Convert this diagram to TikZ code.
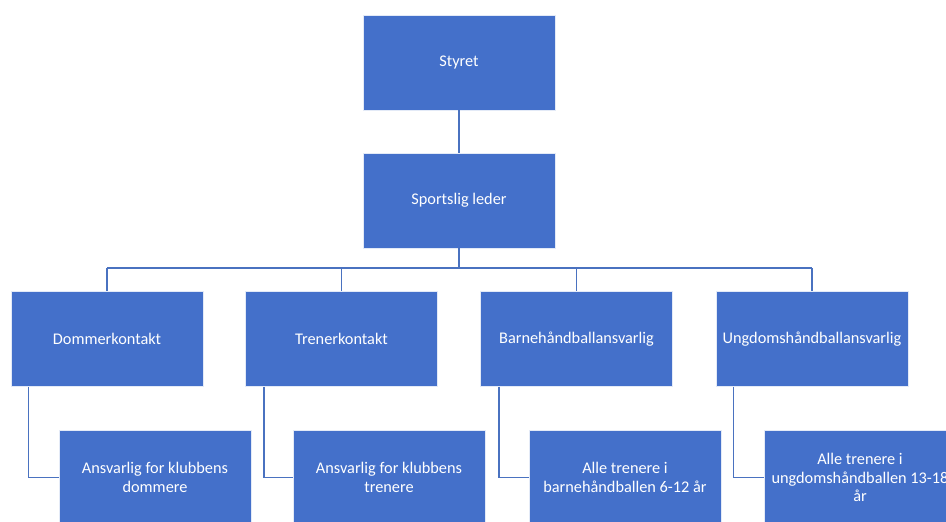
\documentclass[tikz,border=0pt]{standalone}
\usepackage{fontspec}
\setmainfont{Carlito}
\usetikzlibrary{calc}
\definecolor{boxblue}{HTML}{4470CA}
\definecolor{lineblue}{HTML}{4A72C0}
\begin{document}
\begin{tikzpicture}[x=1pt,y=-1pt,
  orgbox/.style={draw=white!85!boxblue,line width=0.8pt,fill=boxblue,text=white,
    minimum width=192pt,minimum height=95pt,inner sep=2pt,align=center,
    font=\fontsize{16.3}{18.8}\selectfont},
  conn/.style={draw=lineblue,line width=1.6pt}]
\useasboundingbox (0,0) rectangle (946,522);
\clip (0,0) rectangle (946,522);
\fill[white] (0,0) rectangle (946,522);
\node[orgbox] (styret) at (459,62.5) {Styret};
\node[orgbox] (leder) at (459,200.5) {Sportslig leder};
\node[orgbox] (d1) at (107,339) {Dommerkontakt};
\node[orgbox] (d2) at (341.5,339) {Trenerkontakt};
\node[orgbox] (d3) at (576.5,339) {Barnehåndballansvarlig};
\node[orgbox] (d4) at (812,339) {Ungdomshåndballansvarlig};
\node[orgbox] (c1) at (155,477.5) {Ansvarlig for klubbens\\dommere};
\node[orgbox] (c2) at (389,477.5) {Ansvarlig for klubbens\\trenere};
\node[orgbox] (c3) at (625,477.5) {Alle trenere i\\barnehåndballen 6-12 år};
\node[orgbox] (c4) at (860,477.5) {Alle trenere i\\ungdomshåndballen 13-18\\år};
\coordinate (bar) at (0,268);
\draw[conn] (styret.south) -- (leder.north);
\draw[conn] (leder.south) -- (leder.south |- bar);
\draw[conn] (d1.north |- bar) -- (d4.north |- bar);
\foreach \n in {d1,d2,d3,d4}{
  \draw[conn] (\n.north |- bar) -- (\n.north);
}
\draw[conn] ($(d1.south west)+(18,0)$) |- (c1.west);
\draw[conn] ($(d2.south west)+(19,0)$) |- (c2.west);
\draw[conn] ($(d3.south west)+(19,0)$) |- (c3.west);
\draw[conn] ($(d4.south west)+(18,0)$) |- (c4.west);
\end{tikzpicture}
\end{document}
